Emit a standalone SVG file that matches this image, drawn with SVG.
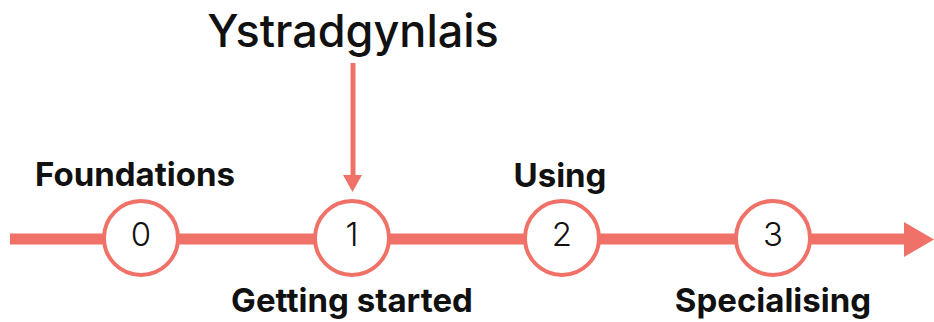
<svg xmlns="http://www.w3.org/2000/svg" width="934" height="322" viewBox="0 0 934 322">
<style>
.lbl{font-family:Inter,"Noto Sans",sans-serif;font-weight:700;font-size:33px;fill:#111;text-anchor:middle}
.num{font-family:Inter,"Noto Sans",sans-serif;font-weight:300;font-size:33px;fill:#111;text-anchor:middle}
.node circle{fill:#fff;stroke:#F07167;stroke-width:4}
</style>
<g id="connectors">
<line x1="10" y1="239" x2="904" y2="239" stroke="#F07167" stroke-width="11"/>
<path d="M904,222 L934,239.5 L904,257 Z" fill="#F07167"/>
<line x1="353" y1="63" x2="353" y2="176" stroke="#F07167" stroke-width="5"/>
<path d="M343,175 L362,175 L352.5,192 Z" fill="#F07167"/>
</g>
<g id="title"><text x="353" y="47" style="font-family:Inter,'Noto Sans',sans-serif;font-weight:500;font-size:45px;fill:#111;text-anchor:middle">Ystradgynlais</text></g>
<g id="node0" class="node"><circle cx="141" cy="238" r="37"/><text class="num" x="141" y="246">0</text><text class="lbl" x="135" y="186">Foundations</text></g>
<g id="node1" class="node"><circle cx="352" cy="238" r="37"/><text class="num" x="352" y="246">1</text><text class="lbl" x="352" y="312">Getting started</text></g>
<g id="node2" class="node"><circle cx="562" cy="238" r="37"/><text class="num" x="562" y="246">2</text><text class="lbl" x="560" y="187">Using</text></g>
<g id="node3" class="node"><circle cx="773" cy="238" r="37"/><text class="num" x="773" y="246">3</text><text class="lbl" x="773" y="312">Specialising</text></g>
</svg>
